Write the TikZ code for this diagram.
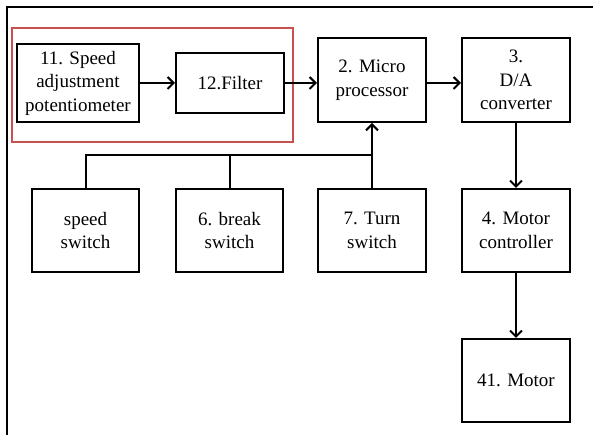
\documentclass[tikz,border=0pt]{standalone}
\usepackage{fontspec}
\setmainfont{Liberation Serif}
\usetikzlibrary{arrows.meta}
\definecolor{framered}{RGB}{200,80,78}
\begin{document}
\begin{tikzpicture}[x=1pt,y=1pt,
  box/.style={draw=black, line width=2pt, fill=white, align=center,
    inner sep=0pt, font=\fontsize{19}{23.5}\selectfont},
  flow/.style={line width=2pt, -{Straight Barb[length=6pt,width=12pt]}},
  wire/.style={line width=2pt}]
\useasboundingbox (0,0) rectangle (595,435);
% page frame
\draw[line width=1.2pt] (7,0) -- (7,428) -- (593,428);
% red group frame
\draw[framered, line width=1.2pt] (12,293) rectangle (293,407);
% blocks
\node[box, minimum width=122, minimum height=78] (pot) at (78,352) {11. Speed\\adjustment\\potentiometer};
\node[box, minimum width=108, minimum height=60] (flt) at (230,352) {12.Filter};
\node[box, minimum width=108, minimum height=84] (mcu) at (372,355) {2. Micro\\processor};
\node[box, minimum width=108, minimum height=84] (dac) at (516,355) {3.\\D/A\\converter};
\node[box, minimum width=107, minimum height=83] (spd) at (85.5,204.5) {speed\\switch};
\node[box, minimum width=107, minimum height=83] (brk) at (229.5,204.5) {6. break\\switch};
\node[box, minimum width=108, minimum height=83] (trn) at (372,204.5) {7. Turn\\switch};
\node[box, minimum width=108, minimum height=83] (ctl) at (516,204.5) {4. Motor\\controller};
\node[box, minimum width=108, minimum height=83] (mot) at (516,54.5) {41. Motor};
% signal path
\coordinate (row) at (0,352);
\draw[flow] (pot.east |- row) -- (flt.west |- row);
\draw[flow] (flt.east |- row) -- (mcu.west |- row);
\draw[flow] (mcu.east |- row) -- (dac.west |- row);
\draw[flow] (dac.south) -- (ctl.north);
\draw[flow] (ctl.south) -- (mot.north);
% switch bus
\coordinate (bus) at (372,280);
\draw[wire] (spd.north) |- (bus);
\draw[wire] (brk.north) -- (brk.north |- bus);
\draw[flow] (trn.north) -- (mcu.south);
\end{tikzpicture}
\end{document}
